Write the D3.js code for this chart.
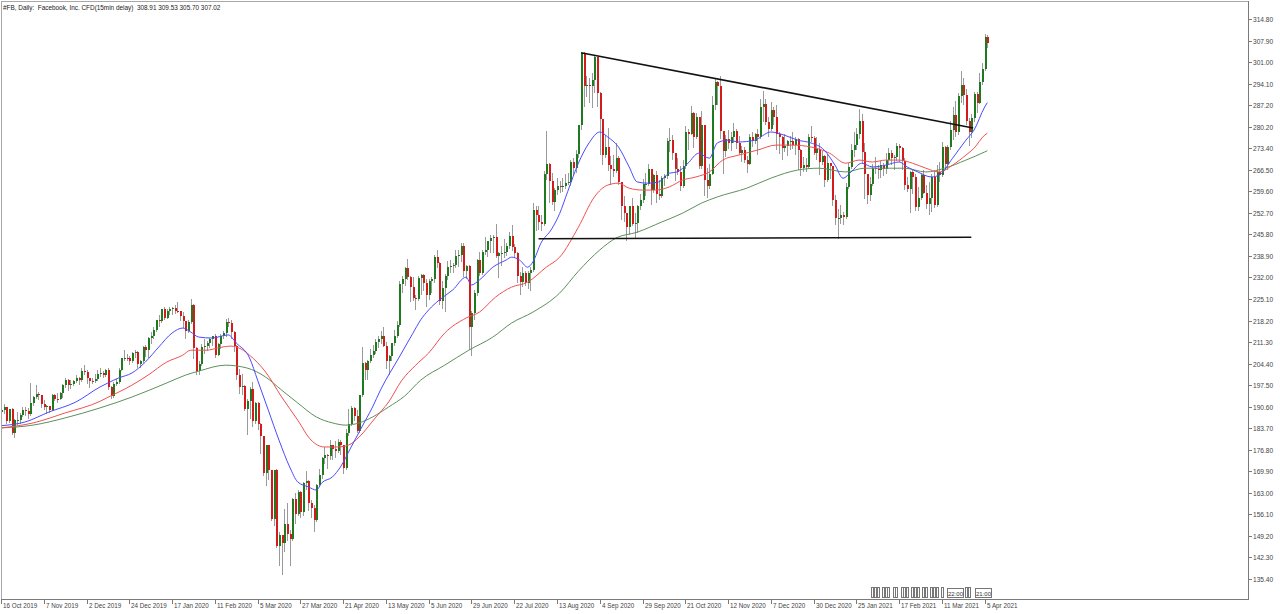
<!DOCTYPE html>
<html><head><meta charset="utf-8">
<script src="https://cdnjs.cloudflare.com/ajax/libs/d3/7.8.5/d3.min.js"></script>
<style>
body{margin:0;background:#fff}
svg{display:block}
text{font-family:"Liberation Sans",Arial,sans-serif}
</style>
</head><body>
<svg id="c" width="1280" height="614"></svg>
<script>
const title = "#FB, Daily:  Facebook, Inc. CFD(15min delay)  308.91 309.53 305.70 307.02";
const priceTicks = [314.80,307.90,301.00,294.10,287.20,280.20,273.40,266.50,259.60,252.70,245.80,238.90,232.00,225.10,218.20,211.30,204.40,197.50,190.60,183.70,176.80,169.90,163.00,156.10,149.20,142.30,135.40];
const dateTickIndex = [0,16,32,48,64,80,96,112,128,144,160,176,192,208,224,240,256,272,288,304,320,336,352,368];
const dateTickLabels = ["16 Oct 2019","7 Nov 2019","2 Dec 2019","24 Dec 2019","17 Jan 2020","11 Feb 2020","5 Mar 2020","27 Mar 2020","21 Apr 2020","13 May 2020","5 Jun 2020","29 Jun 2020","22 Jul 2020","13 Aug 2020","4 Sep 2020","29 Sep 2020","21 Oct 2020","12 Nov 2020","7 Dec 2020","30 Dec 2020","25 Jan 2021","17 Feb 2021","11 Mar 2021","5 Apr 2021"];

// daily candles [open, high, low, close]
const ohlcOctNov2019 = [
[188.9,190.3,187.9,189.5],[189.5,191.6,188.6,190.4],[190.4,190.6,185.3,185.9],[185.9,189.8,185.6,189.8],[189.8,190.2,182.0,182.3],
[182.3,186.7,181.0,186.2],[186.2,188.8,184.9,186.4],[186.4,188.5,185.5,187.9],[187.9,190.5,187.6,189.4],[189.4,190.5,188.0,189.3],
[189.3,190.3,186.9,188.3],[188.3,198.1,188.0,191.7],[191.7,194.0,191.3,193.6],[193.6,197.4,193.3,194.7],[194.7,195.2,193.2,194.3],
[194.3,194.5,190.6,191.6],[191.6,192.7,189.8,190.4],[190.4,191.0,188.5,190.8],[190.8,190.9,188.9,189.6],[189.6,194.8,189.5,194.5],
[194.5,194.7,192.6,193.2],[193.2,194.9,192.2,193.1],[193.1,195.2,193.0,195.1],[195.1,197.8,193.7,197.4],[197.4,199.9,196.9,199.3],
[199.3,199.6,195.8,197.5],[197.5,199.0,196.7,197.9],[197.9,199.2,197.6,198.8],[198.8,200.9,198.5,199.8],[199.8,200.1,198.0,199.0],
[199.0,203.1,198.8,202.0],[202.0,203.8,201.2,201.6]];
const ohlcDec2019 = [
[201.6,202.2,198.1,199.7],[199.7,199.9,197.0,198.8],[198.8,199.9,198.2,198.7],[198.7,201.0,198.5,199.4],[199.4,202.2,199.2,201.1],
[201.1,203.1,200.3,201.3],[201.3,202.1,200.1,200.9],[200.9,202.6,200.4,202.3],[202.3,203.0,196.2,196.8],[196.8,197.1,193.3,194.1],
[194.1,198.4,193.8,197.9],[197.9,199.4,197.5,198.4],[198.4,203.0,198.2,202.5],[202.5,206.3,202.3,206.1],[206.1,208.9,205.5,206.3],
[206.3,207.4,205.6,206.2],[206.2,206.8,204.4,205.1],[205.1,208.0,205.0,207.8],[207.8,208.9,206.5,208.1],[208.1,208.4,203.2,204.4],
[204.4,205.6,203.3,205.3]];
const ohlcJan2020 = [
[205.3,209.9,205.0,209.8],[209.8,210.4,206.9,208.7],[208.7,212.8,206.5,212.6],[212.6,214.6,211.0,213.1],[213.1,216.2,212.6,215.2],
[215.2,218.4,214.9,218.3],[218.3,219.9,216.6,218.1],[218.1,222.0,217.8,221.9],[221.9,222.6,218.8,219.1],[219.1,222.0,218.9,221.2],
[221.2,222.6,220.3,221.8],[221.8,222.6,220.2,222.1],[222.1,223.2,220.6,221.4],[221.4,224.0,221.0,221.3],[221.3,221.4,218.5,219.8],
[219.8,221.0,216.0,217.9],[217.9,218.1,212.6,214.9],[214.9,218.4,214.6,217.8],[217.8,225.0,217.5,223.2],[223.2,223.4,206.2,209.5],
[209.5,209.7,201.1,201.9]];
const ohlcFeb2020 = [
[201.9,205.1,201.2,204.2],[204.2,210.6,204.0,209.8],[209.8,212.3,207.7,210.1],[210.1,211.5,208.9,210.9],[210.9,212.7,209.6,212.3],
[212.3,213.3,210.4,213.1],[213.1,213.8,206.6,207.2],[207.2,211.0,207.0,210.8],[210.8,213.9,209.5,213.1],[213.1,214.7,212.5,214.2],
[214.2,218.8,213.3,217.8],[217.8,219.0,216.6,217.5],[217.5,218.3,212.6,214.6],[214.6,214.8,208.6,210.2],[210.2,210.4,199.5,200.7],
[200.7,202.7,195.0,196.8],[196.8,201.0,194.8,197.2],[197.2,197.4,189.4,189.8],[189.8,193.2,181.8,192.5]];
const ohlcMar2020 = [
[192.5,197.0,186.9,196.4],[196.4,198.4,184.5,185.9],[185.9,192.0,185.5,191.8],[191.8,192.0,183.4,185.2],[185.2,185.4,175.9,181.1],
[181.1,181.3,168.7,169.5],[169.5,178.3,165.6,178.2],[178.2,178.4,167.5,170.2],[170.2,170.4,154.2,154.5],[154.5,170.4,152.6,170.3],
[170.3,170.5,145.5,146.0],[146.0,150.6,140.0,149.4],[149.4,149.6,137.1,147.0],[147.0,157.8,144.4,153.1],[153.1,159.6,148.0,149.7],
[149.7,151.2,139.8,148.1],[148.1,161.2,147.8,161.0],[161.0,162.9,153.4,156.2],[156.2,163.9,155.8,163.3],[163.3,163.5,155.3,156.8],
[156.8,166.4,156.0,166.0],[166.0,170.0,164.3,166.8]];
const ohlcApr2020 = [
[166.8,167.0,157.6,159.6],[159.6,160.8,155.3,158.2],[158.2,159.0,150.8,154.2],[154.2,165.9,153.9,165.6],[165.6,170.7,165.2,168.8],
[168.8,174.6,167.9,174.3],[174.3,177.6,172.6,175.2],[175.2,175.6,170.8,174.8],[174.8,180.0,174.0,178.2],[178.2,178.4,173.7,177.0],
[177.0,179.5,174.6,176.3],[176.3,180.2,176.0,179.2],[179.2,179.9,175.4,178.2],[178.2,178.4,169.4,170.8],[170.8,183.3,170.5,182.3],
[182.3,190.0,181.6,185.1],[185.1,190.7,184.7,190.1],[190.1,190.6,186.3,187.5],[187.5,189.6,182.5,182.9],[182.9,194.5,182.6,194.2],
[194.2,209.7,194.0,204.7]];
const ohlcMay2020 = [
[204.7,204.9,199.5,202.3],[202.3,205.5,199.6,205.3],[205.3,209.2,205.0,207.1],[207.1,210.4,206.6,208.5],[208.5,212.2,207.9,211.3],
[211.3,213.3,209.8,212.4],[212.4,214.8,210.9,213.2],[213.2,216.2,209.9,210.1],[210.1,211.2,203.0,205.1],[205.1,207.3,201.0,206.8],
[206.8,211.0,205.6,210.9],[210.9,215.2,210.4,213.2],[213.2,217.9,212.9,216.9],[216.9,230.8,216.5,230.0],[230.0,232.5,227.5,231.4],
[231.4,235.4,229.7,234.9],[234.9,238.0,231.5,232.2],[232.2,232.4,224.4,229.1],[229.1,232.2,224.7,225.5],[225.5,226.4,221.8,225.1]];
const ohlcJun2020 = [
[225.1,232.5,224.7,231.9],[231.9,233.0,226.6,232.7],[232.7,233.0,228.0,230.2],[230.2,231.6,223.0,226.3],[226.3,231.4,225.0,230.8],
[230.8,232.0,227.4,231.4],[231.4,239.3,230.6,238.7],[238.7,240.9,235.5,236.7],[236.7,236.9,223.6,224.4],[224.4,230.9,222.2,228.6],
[228.6,233.2,221.3,232.5],[232.5,237.2,231.6,235.5],[235.5,237.5,233.7,235.6],[235.6,236.6,233.8,235.9],[235.9,240.8,235.5,238.8],
[238.8,240.8,235.7,239.2],[239.2,242.9,237.4,242.2],[242.2,243.2,232.4,234.0],[234.0,236.0,231.7,235.7],[235.7,235.9,209.1,216.1],
[216.1,221.3,207.1,220.6],[220.6,227.9,218.8,227.1]];
const ohlcJul2020 = [
[227.1,238.0,226.5,237.6],[237.6,240.0,232.9,233.4],[233.4,240.8,233.0,240.3],[240.3,244.9,239.4,240.9],[240.9,243.8,239.0,243.6],
[243.6,245.5,240.3,244.5],[244.5,245.5,240.3,245.1],[245.1,249.0,238.4,239.0],[239.0,240.2,232.3,239.7],[239.7,242.2,236.0,239.9],
[239.9,244.2,238.4,240.3],[240.3,243.0,239.3,242.0],[242.0,246.5,241.3,245.4],[245.4,248.7,240.9,241.8],[241.8,242.6,238.5,239.9],
[239.9,240.1,230.4,232.6],[232.6,233.6,226.6,230.7],[230.7,235.4,229.3,233.5],[233.5,234.0,229.7,230.1],[230.1,234.1,228.6,233.3],
[233.3,235.4,228.1,234.5],[234.5,255.9,234.0,253.7]];
const ohlcAug2020 = [
[253.7,254.8,247.1,252.0],[252.0,254.9,247.4,249.8],[249.8,252.0,247.2,249.1],[249.1,266.0,248.8,265.3],[265.3,278.9,263.4,268.4],
[268.4,268.6,256.2,263.0],[263.0,265.4,255.5,256.1],[256.1,260.6,253.6,259.9],[259.9,263.9,258.6,261.3],[261.3,263.0,259.3,261.2],
[261.2,264.0,259.6,261.3],[261.3,265.2,260.5,262.3],[262.3,265.6,261.9,262.6],[262.6,269.5,261.7,269.0],[269.0,270.2,264.9,267.0],
[267.0,272.9,265.9,271.4],[271.4,280.9,270.5,280.8],[280.8,304.0,279.5,303.9],[303.9,304.1,286.8,293.2],[293.2,296.4,290.0,293.7],
[293.7,296.0,288.3,293.2]];
const ohlcSep2020 = [
[293.2,297.4,286.6,295.4],[295.4,302.9,291.4,302.5],[302.5,302.7,287.0,291.1],[291.1,291.3,271.4,282.7],[282.7,282.9,268.5,271.2],
[271.2,277.6,270.5,273.7],[273.7,279.8,266.4,268.1],[268.1,271.0,262.0,266.6],[266.6,271.1,264.5,266.2],[266.2,275.0,265.8,270.2],
[270.2,271.0,261.8,262.5],[262.5,262.7,250.8,254.8],[254.8,258.0,250.0,252.5],[252.5,252.7,244.1,248.2],[248.2,255.0,246.0,254.8],
[254.8,257.6,248.7,249.0],[249.0,252.8,244.9,249.5],[249.5,255.2,246.5,254.8],[254.8,258.8,253.9,256.8],[256.8,263.6,256.2,261.8],
[261.8,265.4,258.3,261.9]];
const ohlcOct2020 = [
[261.9,268.3,261.5,266.6],[266.6,266.8,255.6,259.9],[259.9,265.0,259.3,264.7],[264.7,266.2,256.1,258.7],[258.7,263.2,257.2,258.1],
[258.1,264.4,257.8,263.8],[263.8,265.0,261.5,264.5],[264.5,276.6,264.0,275.8],[275.8,279.9,272.6,276.1],[276.1,277.7,270.0,271.8],
[271.8,272.0,263.2,266.7],[266.7,270.4,265.3,265.9],[265.9,267.7,260.0,261.4],[261.4,269.5,261.0,267.6],[267.6,280.6,267.0,278.7],
[278.7,279.5,273.3,278.1],[278.1,287.0,277.9,284.8],[284.8,285.0,273.7,277.1],[277.1,284.8,276.8,283.3],[283.3,283.5,267.2,267.7],
[267.7,285.4,267.0,280.8],[280.8,281.0,258.3,263.1]];
const ohlcNov2020 = [
[263.1,267.1,257.9,261.4],[261.4,268.2,260.5,265.3],[265.3,290.0,265.0,287.4],[287.4,295.7,286.0,294.7],[294.7,295.0,287.5,293.4],
[293.4,296.5,276.8,278.8],[278.8,279.0,265.5,272.4],[272.4,277.6,271.0,276.5],[276.5,279.4,273.5,275.1],[275.1,278.5,272.7,277.0],
[277.0,281.5,275.5,279.0],[279.0,279.6,273.4,275.0],[275.0,277.4,271.7,272.0],[272.0,274.0,269.2,272.9],[272.9,273.8,269.0,269.7],
[269.7,271.0,265.9,268.4],[268.4,278.0,268.3,276.9],[276.9,278.6,274.0,275.6],[275.6,278.3,275.2,277.8],[277.8,279.7,271.6,277.0]];
const ohlcDec2020 = [
[277.0,289.3,276.6,286.6],[286.6,291.8,282.2,287.5],[287.5,289.3,281.1,281.9],[281.9,283.5,277.4,279.7],[279.7,288.2,279.4,285.6],
[285.6,286.6,281.1,283.4],[283.4,287.1,273.2,277.9],[277.9,278.7,271.8,277.1],[277.1,277.3,269.8,273.6],[273.6,277.9,272.4,274.2],
[274.2,276.0,271.2,275.6],[275.6,277.2,273.3,275.7],[275.7,278.6,273.6,274.5],[274.5,276.9,271.6,276.4],[276.4,276.6,266.6,272.8],
[272.8,273.3,264.7,267.1],[267.1,270.5,266.0,268.1],[268.1,270.4,266.2,267.4],[267.4,278.0,267.2,277.0],[277.0,280.5,275.6,276.8],
[276.8,277.3,271.5,271.9],[271.9,277.1,269.8,273.2]];
const ohlcJan2021 = [
[273.2,275.0,265.2,268.9],[268.9,272.4,268.2,271.0],[271.0,271.2,261.2,263.3],[263.3,271.6,262.8,268.7],[268.7,268.8,264.0,267.6],
[267.6,267.8,255.3,256.8],[256.8,258.5,249.2,251.1],[251.1,253.9,244.6,251.2],[251.2,255.3,249.6,251.9],[251.9,253.1,249.2,251.4],
[251.4,262.4,251.0,261.1],[261.1,268.8,260.8,267.5],[267.5,274.7,267.0,272.9],[272.9,278.7,271.0,274.5],[274.5,279.9,273.3,278.0],
[278.0,286.0,276.6,282.1],[282.1,284.3,268.9,272.1],[272.1,275.0,257.5,265.0],[265.0,265.2,255.8,258.3]];
const ohlcFeb2021 = [
[258.3,264.1,256.8,262.0],[262.0,268.3,261.5,267.1],[267.1,270.5,265.4,266.7],[266.7,267.9,263.9,266.5],[266.5,269.4,264.2,268.1],
[268.1,268.8,264.7,266.6],[266.6,271.9,265.5,269.5],[269.5,273.4,268.6,271.9],[271.9,272.7,268.4,270.4],[270.4,271.3,266.8,270.5],
[270.5,275.1,269.7,274.0],[274.0,274.7,269.2,273.6],[273.6,273.8,266.8,269.4],[269.4,270.3,260.4,261.6],[261.6,264.2,259.6,260.3],
[260.3,266.0,252.9,265.9],[265.9,266.4,259.2,264.3],[264.3,265.2,253.5,254.7],[254.7,260.9,253.6,257.6]];
const ohlcMarApr2021 = [
[257.6,265.5,257.1,264.9],[264.9,266.3,258.9,259.0],[259.0,261.5,254.1,255.4],[255.4,262.6,252.3,257.6],[257.6,265.3,253.2,264.3],
[264.3,266.2,254.6,255.3],[255.3,267.9,254.9,265.7],[265.7,269.0,263.0,264.9],[264.9,275.4,264.5,273.9],[273.9,274.1,266.6,268.4],
[268.4,274.4,266.8,273.8],[273.8,282.2,273.1,279.3],[279.3,286.7,276.5,284.0],[284.0,288.6,277.3,278.6],[278.6,291.0,277.8,290.1],
[290.1,298.3,288.3,293.5],[293.5,296.0,287.6,290.6],[290.6,292.4,281.3,282.1],[282.1,283.1,274.5,278.7],[278.7,284.3,276.9,283.0],
[283.0,291.3,282.0,290.8],[290.8,291.5,285.1,288.0],[288.0,297.5,287.9,294.5],[294.5,300.7,293.9,298.7],[298.7,310.0,298.4,308.9],
[308.91,309.53,305.70,307.02]];

// moving averages: [bar index, value]
const maBlue = [[0,184.5],[9,185.7],[18,188.9],[28,192.1],[37,196.9],[40,198.2],[44,199.8],[49,201.4],[54,204.9],[59,209.7],[64,214.2],[68,215.8],[71,214.5],[74,212.9],[79,212.6],[85,213.6],[88,211.0],[93,206.2],[96,199.1],[100,189.5],[104,179.9],[108,171.3],[111,166.5],[115,164.9],[118,163.9],[120,166.2],[124,168.1],[127,171.3],[131,177.7],[135,184.1],[139,190.5],[142,196.0],[149,206.5],[154,214.0],[157,218.4],[160,221.6],[164,224.8],[169,228.0],[174,232.1],[176,229.6],[179,231.2],[184,235.3],[189,237.6],[191,238.5],[194,237.6],[197,235.3],[199,237.0],[202,243.0],[206,247.5],[209,252.5],[212,259.5],[216,268.6],[220,275.1],[224,278.6],[227,277.0],[231,273.8],[235,267.4],[238,262.6],[242,262.2],[246,262.6],[250,265.4],[253,265.8],[257,268.6],[261,271.8],[265,270.2],[268,275.1],[272,276.0],[276,275.4],[282,276.0],[288,278.6],[293,277.6],[298,276.0],[303,275.1],[308,272.8],[312,268.0],[315,263.8],[318,265.8],[322,268.6],[326,267.4],[331,268.0],[336,269.0],[339,267.4],[343,265.8],[348,264.2],[351,264.8],[356,270.2],[361,276.0],[364,279.2],[368,286.6],[369,288.0]];
const maRed = [[0,183.8],[12,185.4],[24,188.6],[37,192.3],[40,193.6],[49,197.5],[55,200.7],[62,204.9],[68,207.1],[71,208.7],[77,208.7],[81,209.4],[86,210.0],[90,209.0],[93,207.1],[99,201.7],[105,193.7],[111,186.3],[116,179.9],[121,177.7],[126,177.7],[130,178.3],[134,180.9],[140,187.0],[145,192.1],[150,199.1],[155,203.8],[160,207.8],[166,214.2],[174,219.0],[179,220.9],[185,225.7],[191,228.9],[197,230.5],[204,235.3],[209,238.5],[216,248.1],[222,257.8],[227,261.6],[231,262.2],[235,260.6],[240,260.0],[245,260.0],[250,261.0],[255,263.2],[260,264.2],[265,265.8],[270,269.6],[276,271.2],[283,272.8],[290,274.4],[296,274.4],[303,273.8],[310,271.8],[316,268.6],[321,269.6],[326,269.0],[331,269.6],[336,269.6],[341,268.6],[346,267.0],[351,265.8],[356,268.0],[361,271.2],[364,273.4],[368,277.6],[369,278.2]];
const maGreen = [[0,183.8],[12,184.7],[24,187.0],[37,190.2],[49,193.7],[62,198.2],[69,200.7],[74,202.0],[84,203.9],[92,203.0],[99,200.1],[105,195.9],[111,191.8],[118,187.3],[124,185.4],[129,184.7],[134,185.4],[139,187.3],[145,190.5],[151,194.0],[157,199.1],[166,203.9],[175,208.7],[184,212.9],[191,217.4],[199,220.9],[209,227.0],[216,234.0],[224,240.8],[230,244.6],[238,246.5],[247,249.7],[255,252.6],[262,255.8],[268,257.8],[279,260.6],[288,263.8],[298,266.4],[306,267.0],[316,265.8],[323,267.0],[333,267.0],[338,267.0],[346,265.8],[353,267.0],[361,269.6],[368,272.2],[369,272.6]];

// hand-drawn objects: [bar1, price1, bar2, price2]
const trendLines = [[217,304.0,363.7,279.9],[201.1,244.4,363.0,244.9]];
// calendar event markers at the bottom
const eventBars = [326,327,328,330,331,332,334,335,337,338,339,341,342,343,345,346,348,349,350,352,361,362];
const eventLabels = [[354,"22:00"],[364.5,"21:00"]];

const candles = [].concat(ohlcOctNov2019,ohlcDec2019,ohlcJan2020,ohlcFeb2020,ohlcMar2020,ohlcApr2020,ohlcMay2020,ohlcJun2020,ohlcJul2020,ohlcAug2020,ohlcSep2020,ohlcOct2020,ohlcNov2020,ohlcDec2020,ohlcJan2021,ohlcFeb2021,ohlcMarApr2021);

const svg = d3.select("#c");
const L = 1, T = 1, R = 1248, B = 599;
const step = 2.673;
const x = d3.scaleLinear().domain([0, 368]).range([1, 1 + 368*step]);
const y = d3.scaleLinear().domain([135.4, 314.8]).range([579, 19]);

svg.append("defs").append("clipPath").attr("id","plot")
  .append("rect").attr("x",L+0.5).attr("y",T+0.5).attr("width",R-L-1).attr("height",B-T-1);

const plot = svg.append("g").attr("clip-path","url(#plot)");

// candles
const cg = plot.append("g").attr("shape-rendering","crispEdges");
candles.forEach((d,i)=>{
  const [o,h,l,c] = d;
  const cx = Math.round(x(i));
  cg.append("line").attr("x1",cx+0.5).attr("x2",cx+0.5)
    .attr("y1",Math.round(y(h))).attr("y2",Math.round(y(l))+1)
    .attr("stroke","#9a9a9a").attr("stroke-width",1);
  const yt = Math.round(y(Math.max(o,c))), yb = Math.round(y(Math.min(o,c)));
  cg.append("rect").attr("x",cx-0.5).attr("width",2)
    .attr("y",yt).attr("height",Math.max(1,yb-yt))
    .attr("fill", c>=o ? "#1f7a1f" : "#d41b1b");
});

// moving averages
const line = d3.line().x(d=>x(d[0])).y(d=>y(d[1])).curve(d3.curveMonotoneX);
[[maGreen,"#5d8f5d"],[maRed,"#f05050"],[maBlue,"#4a4aff"]].forEach(([pts,col])=>{
  plot.append("path").attr("d",line(pts)).attr("fill","none").attr("stroke",col).attr("stroke-width",1);
});

// trend lines
trendLines.forEach(t=>{
  plot.append("line").attr("x1",x(t[0])).attr("y1",y(t[1])).attr("x2",x(t[2])).attr("y2",y(t[3]))
    .attr("stroke","#111").attr("stroke-width",1.6);
});

// event markers
const eg = svg.append("g").attr("shape-rendering","crispEdges");
eventBars.forEach(b=>{
  const ex = Math.round(x(b));
  eg.append("rect").attr("x",ex-0.5).attr("y",587.5).attr("width",2).attr("height",10)
    .attr("fill","#fff").attr("stroke","#777").attr("stroke-width",1);
});
eventLabels.forEach(([b,t])=>{
  const ex = Math.round(x(b));
  eg.append("rect").attr("x",ex+0.5).attr("y",588.5).attr("width",16).attr("height",9)
    .attr("fill","#fff").attr("stroke","#777").attr("stroke-width",1).attr("rx",1);
  svg.append("text").attr("x",ex+8.5).attr("y",595.5).attr("text-anchor","middle")
    .attr("font-size","6px").attr("fill","#333").text(t);
});

// frame
const fg = svg.append("g").attr("shape-rendering","crispEdges");
fg.append("line").attr("x1",L).attr("x2",R).attr("y1",T+0.5).attr("y2",T+0.5).attr("stroke","#a8a8a8");
fg.append("line").attr("x1",L+0.5).attr("x2",L+0.5).attr("y1",T).attr("y2",B).attr("stroke","#a8a8a8");
fg.append("line").attr("x1",R+0.5).attr("x2",R+0.5).attr("y1",T).attr("y2",B+1).attr("stroke","#7a7a7a");
fg.append("line").attr("x1",L).attr("x2",R+1).attr("y1",B+0.5).attr("y2",B+0.5).attr("stroke","#7a7a7a");

// price axis
const fmt = d3.format(".2f");
priceTicks.forEach(v=>{
  const ty = Math.round(y(v));
  fg.append("line").attr("x1",R+1).attr("x2",R+4).attr("y1",ty+0.5).attr("y2",ty+0.5).attr("stroke","#7a7a7a");
  svg.append("text").attr("x",R+5).attr("y",ty+2.5).attr("font-size","6.6px").attr("fill","#444").text(fmt(v));
});

// date axis
dateTickIndex.forEach((b,k)=>{
  const tx = Math.round(x(b));
  fg.append("line").attr("x1",tx+0.5).attr("x2",tx+0.5).attr("y1",B+1).attr("y2",B+5).attr("stroke","#7a7a7a");
  svg.append("text").attr("x",tx+2).attr("y",B+9).attr("font-size","6.3px").attr("fill","#444").text(dateTickLabels[k]);
});

// title
svg.append("text").attr("x",3).attr("y",9.5).attr("font-size","6.4px").attr("fill","#222")
  .style("white-space","pre").text(title);
</script>
</body></html>
